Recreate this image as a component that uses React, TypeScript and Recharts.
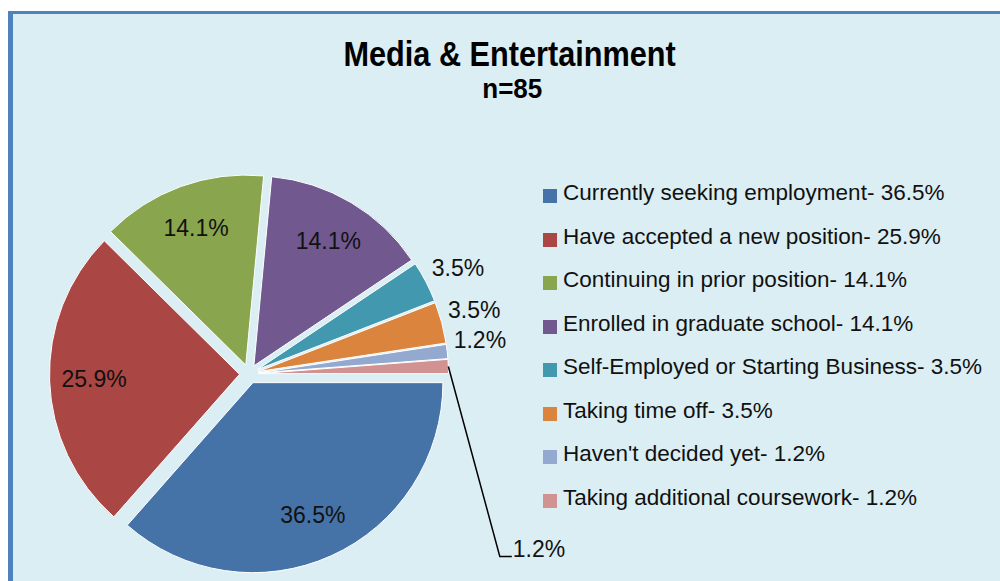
import { PieChart, Pie, Cell, Sector, Legend } from "recharts"

const categories = [
  "Currently seeking employment",
  "Have accepted a new position",
  "Continuing in prior position",
  "Enrolled in graduate school",
  "Self-Employed or Starting Business",
  "Taking time off",
  "Haven't decided yet",
  "Taking additional coursework",
]
const shares = [36.5, 25.9, 14.1, 14.1, 3.5, 3.5, 1.2, 1.2]
const colors = ["#4572A7", "#AA4643", "#89A54E", "#71588F", "#4198AF", "#DB843D", "#93A9CF", "#D19392"]

const title = "Media & Entertainment"
const subtitle = "n=85"

const data = categories.map((name, i) => ({ name, value: shares[i] }))

const RAD = Math.PI / 180
const EXPLODE = 9.5
const FONT = "'Liberation Sans', Arial, sans-serif"

function ExplodedSlice(props: any) {
  const { cx, cy, innerRadius, outerRadius, startAngle, endAngle, midAngle, fill } = props
  const dx = EXPLODE * Math.cos(midAngle * RAD)
  const dy = -EXPLODE * Math.sin(midAngle * RAD)
  return (
    <Sector
      cx={cx + dx}
      cy={cy + dy}
      innerRadius={innerRadius}
      outerRadius={outerRadius}
      startAngle={startAngle}
      endAngle={endAngle}
      fill={fill}
      stroke="#fff"
      strokeWidth={1}
    />
  )
}

function SliceLabel(props: any) {
  const { cx, cy, midAngle, outerRadius, value, index } = props
  const cos = Math.cos(midAngle * RAD)
  const sin = Math.sin(midAngle * RAD)
  const text = `${value}%`
  if (value >= 10) {
    const r = outerRadius * 0.816
    return (
      <text x={cx + r * cos} y={cy - r * sin} textAnchor="middle" dominantBaseline="central" fontSize={23} fontFamily={FONT} fill="#111">
        {text}
      </text>
    )
  }
  if (index === data.length - 1) {
    // last thin slice gets a leader line down to the bottom
    const sx = cx + (outerRadius + EXPLODE) * cos
    const sy = cy - (outerRadius + EXPLODE) * sin
    const ex = cx + outerRadius * 1.32
    const ey = cy + outerRadius * 0.96
    return (
      <g>
        <polyline points={`${sx},${sy} ${ex},${ey} ${ex + 12},${ey}`} fill="none" stroke="#000" strokeWidth={1.5} />
        <text x={ex + 13} y={ey + 1} textAnchor="start" fontSize={23} fontFamily={FONT} fill="#111">
          {text}
        </text>
      </g>
    )
  }
  const r = outerRadius + 15
  return (
    <text x={cx + r * cos + 1} y={cy - r * sin - 3} textAnchor="start" fontSize={23} fontFamily={FONT} fill="#111">
      {text}
    </text>
  )
}

function LegendList({ payload }: any) {
  const items = [...(payload || [])].sort(
    (a: any, b: any) => categories.indexOf(a.value) - categories.indexOf(b.value)
  )
  return (
    <ul style={{ listStyle: "none", margin: 0, padding: 0 }}>
      {items.map((entry: any) => (
        <li
          key={entry.value}
          style={{ height: 43.5, lineHeight: "43.5px", fontSize: 22.5, fontFamily: FONT, color: "#111", whiteSpace: "nowrap" }}
        >
          <span
            style={{ display: "inline-block", width: 14, height: 14, background: entry.color, marginRight: 6, verticalAlign: -3 }}
          />
          {`${entry.value}- ${shares[categories.indexOf(entry.value)]}%`}
        </li>
      ))}
    </ul>
  )
}

export default function App() {
  return (
    <div style={{ position: "absolute", left: 0, top: 0, width: 1000, height: 581, background: "#fff", overflow: "hidden" }}>
      <div
        style={{
          position: "absolute",
          left: 8,
          top: 11,
          width: 992,
          height: 570,
          boxSizing: "border-box",
          borderLeft: "5px solid #4F81BD",
          borderTop: "3px solid #4F81BD",
          background: "#DBEEF3",
        }}
      />
      <div
        style={{
          position: "absolute",
          left: 0,
          width: 1020,
          top: 33,
          textAlign: "center",
          fontFamily: FONT,
          fontWeight: "bold",
          color: "#000",
          fontSize: 35,
          lineHeight: "42px",
        }}
      >
        <span style={{ display: "inline-block", transform: "scaleX(0.876)" }}>{title}</span>
      </div>
      <div
        style={{
          position: "absolute",
          left: 0,
          width: 1024,
          top: 74,
          textAlign: "center",
          fontFamily: FONT,
          fontWeight: "bold",
          color: "#000",
          fontSize: 28,
          lineHeight: "30px",
        }}
      >
        <span style={{ display: "inline-block", transform: "scaleX(0.93)" }}>{subtitle}</span>
      </div>
      <div style={{ position: "absolute", left: 0, top: 0 }}>
        <PieChart width={1000} height={581} margin={{ top: 0, right: 0, bottom: 0, left: 0 }}>
          <Pie
            data={data}
            dataKey="value"
            nameKey="name"
            cx={249}
            cy={374}
            outerRadius={190}
            startAngle={0}
            endAngle={-360}
            shape={ExplodedSlice}
            label={SliceLabel}
            labelLine={false}
            isAnimationActive={false}
          >
            {data.map((d, i) => (
              <Cell key={d.name} fill={colors[i]} />
            ))}
          </Pie>
          <Legend
            layout="vertical"
            verticalAlign="top"
            align="right"
            content={LegendList}
            wrapperStyle={{ left: 543, top: 171, width: 450 }}
          />
        </PieChart>
      </div>
    </div>
  )
}
